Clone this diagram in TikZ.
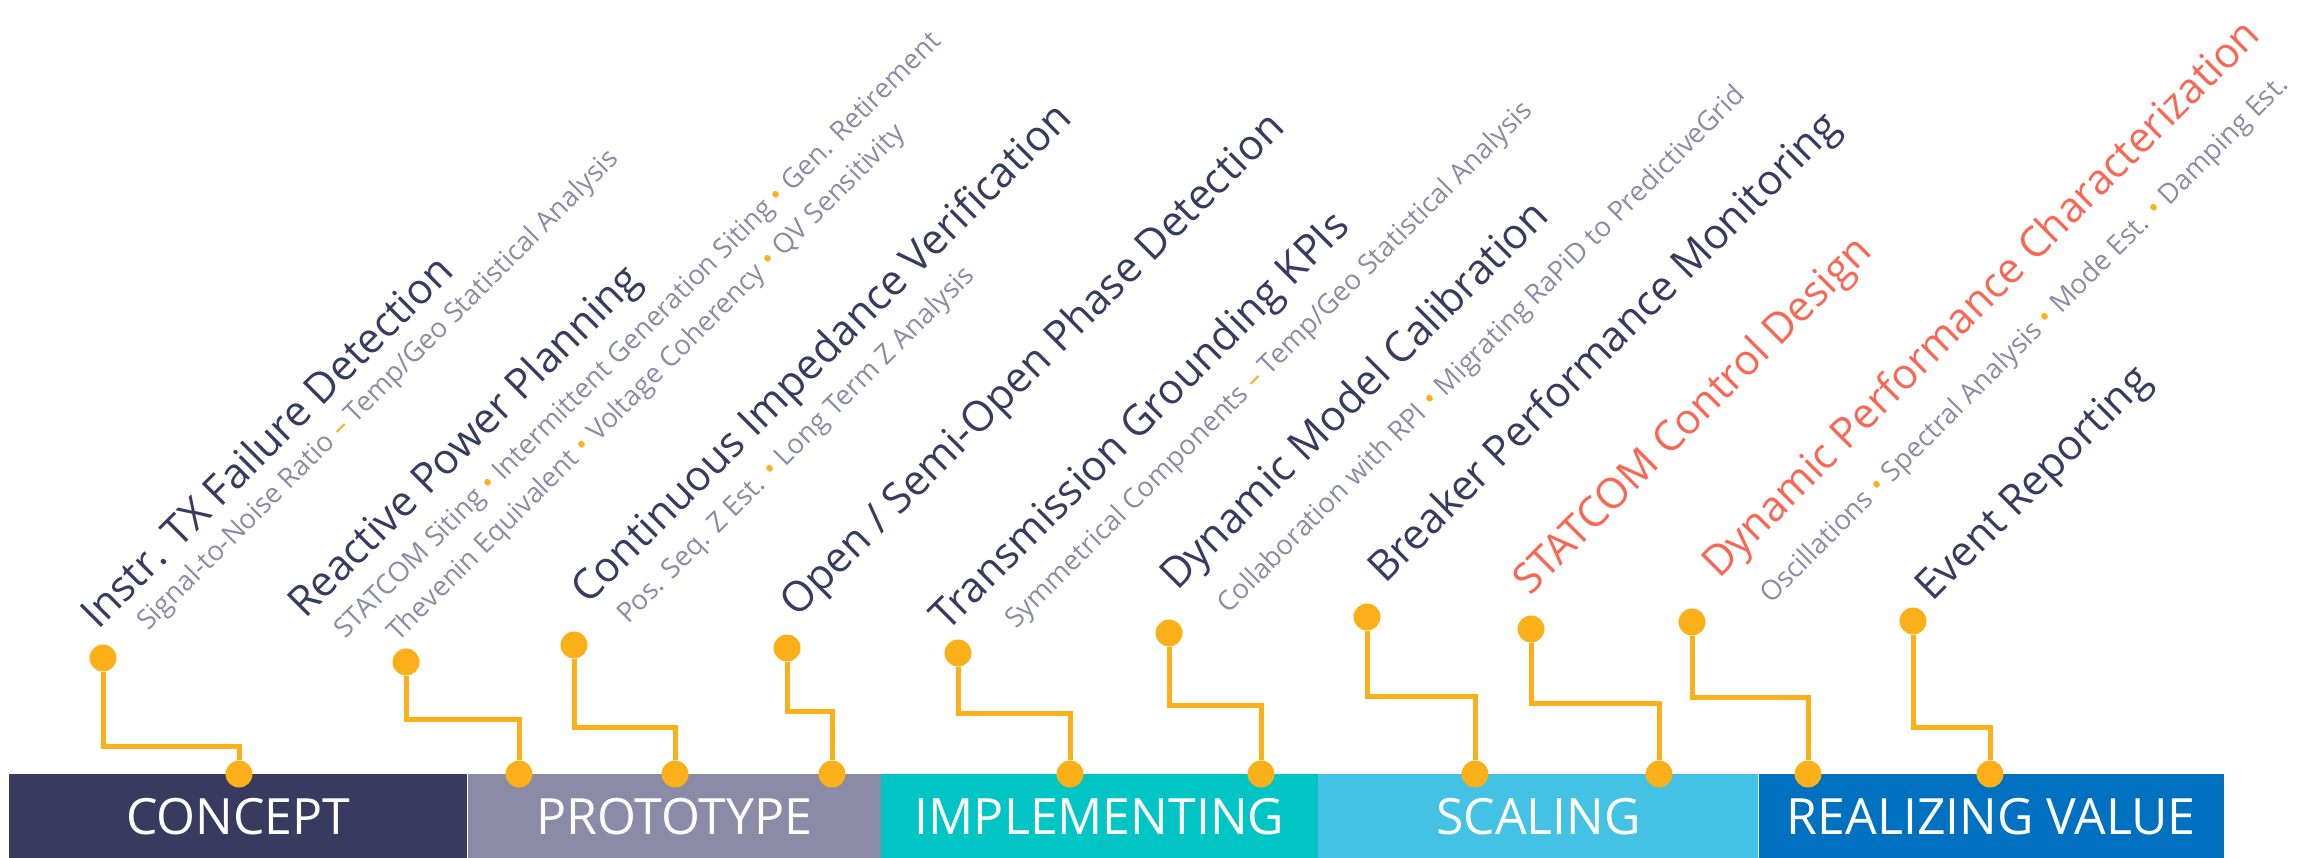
\documentclass[tikz,border=0pt]{standalone}
\usepackage{fontspec}
\setmainfont{Open Sans}
\usepackage{xcolor}
\usepackage{tikz}
\usetikzlibrary{positioning}

\definecolor{navy}{HTML}{383B5F}
\definecolor{lilac}{HTML}{8B8BA7}
\definecolor{coral}{HTML}{FA6654}
\definecolor{gold}{HTML}{FBB01A}
\definecolor{teal}{HTML}{00C5C4}
\definecolor{sky}{HTML}{43C2E3}
\definecolor{ocean}{HTML}{0071C1}

\newcommand{\titlefont}{\fontsize{42}{50}\selectfont}
\newcommand{\subfont}{\fontsize{27.5}{32}\selectfont}
\newcommand{\bandfont}{\fontsize{50}{58}\selectfont}
\newcommand{\bul}{ {\color{gold}\textbullet} }
\newcommand{\dsh}{ {\color{gold}--} }

\begin{document}
\begin{tikzpicture}[x=1pt,y=-1pt,
    band/.style={minimum height=84pt,inner sep=0pt,text=white,font=\bandfont},
    pin/.style={circle,fill=gold,inner sep=0pt,minimum size=27pt},
    wire/.style={draw=gold,line width=5pt},
    title/.style={rotate=45,anchor=base west,inner sep=0pt,text=navy,font=\titlefont},
    sub/.style={rotate=45,anchor=base west,inner sep=0pt,text=lilac,font=\subfont}]
  \useasboundingbox (0,0) rectangle (2308,858);

  % phases
  \node[band,fill=navy,minimum width=458pt,anchor=north west] (concept) at (9,774) {CONCEPT};
  \node[band,fill=lilac,minimum width=413pt,right=0pt of concept] (prototype) {PROTOTYPE};
  \node[band,fill=teal,minimum width=437pt,right=0pt of prototype] (implementing) {IMPLEMENTING};
  \node[band,fill=sky,minimum width=440pt,right=0pt of implementing] (scaling) {SCALING};
  \node[band,fill=ocean,minimum width=465pt,right=0pt of scaling] (realizing) {REALIZING VALUE};

  % pins on the phase bar
  \node[pin] (b1) at (239,774) {};
  \node[pin] (b2) at (519,774) {};
  \node[pin] (b3) at (675,774) {};
  \node[pin] (b4) at (832,774) {};
  \node[pin] (b5) at (1070,774) {};
  \node[pin] (b6) at (1261,774) {};
  \node[pin] (b7) at (1475,774) {};
  \node[pin] (b8) at (1659,774) {};
  \node[pin] (b9) at (1808,774) {};
  \node[pin] (b10) at (1990,774) {};

  % pins under the labels
  \node[pin] (t1) at (103,658) {};
  \node[pin] (t2) at (406,662) {};
  \node[pin] (t3) at (574,645) {};
  \node[pin] (t4) at (787,648) {};
  \node[pin] (t5) at (958,653) {};
  \node[pin] (t6) at (1169,633) {};
  \node[pin] (t7) at (1367,617) {};
  \node[pin] (t8) at (1531,629) {};
  \node[pin] (t9) at (1692,622) {};
  \node[pin] (t10) at (1913,621) {};

  \draw[wire] (t1) -- ++(0,88) -| (b1);
  \draw[wire] (t2) -- ++(0,57) -| (b2);
  \draw[wire] (t3) -- ++(0,82) -| (b3);
  \draw[wire] (t4) -- ++(0,63) -| (b4);
  \draw[wire] (t5) -- ++(0,60) -| (b5);
  \draw[wire] (t6) -- ++(0,72) -| (b6);
  \draw[wire] (t7) -- ++(0,79) -| (b7);
  \draw[wire] (t8) -- ++(0,74) -| (b8);
  \draw[wire] (t9) -- ++(0,75) -| (b9);
  \draw[wire] (t10) -- ++(0,106) -| (b10);

  % labels
  \node[title] (instr) at (98,631) {Instr. TX Failure Detection};
  \node[sub] (instrsub) at (148,632) {Signal-to-Noise Ratio\dsh Temp/Geo Statistical Analysis};
  \node[title] (reactive) at (305,620) {Reactive Power Planning};
  \node[sub] (reactivesuba) at (345,640) {STATCOM Siting\bul Intermittent Generation Siting\bul Gen. Retirement};
  \node[sub] (reactivesubb) at (398,643) {Thevenin Equivalent\bul Voltage Coherency\bul QV Sensitivity};
  \node[title] (impedance) at (588,606) {Continuous Impedance Verification};
  \node[sub] (impedancesub) at (628,625) {Pos. Seq. Z Est.\bul Long Term Z Analysis};
  \node[title] (openphase) at (797,619) {Open / Semi-Open Phase Detection};
  \node[title] (grounding) at (947,633) {Transmission Grounding KPIs};
  \node[sub] (groundingsub) at (1016,630) {Symmetrical Components\dsh Temp/Geo Statistical Analysis};
  \node[title] (calibration) at (1177,592) {Dynamic Model Calibration};
  \node[sub] (calibrationsub) at (1228,615) {Collaboration with RPI\bul Migrating RaPiD to PredictiveGrid};
  \node[title] (breaker) at (1385,585) {Breaker Performance Monitoring};
  \node[title,text=coral] (statcom) at (1530,597) {STATCOM Control Design};
  \node[title,text=coral] (dynperf) at (1719,580) {Dynamic Performance Characterization};
  \node[sub] (dynperfsub) at (1771,605) {Oscillations\bul Spectral Analysis\bul Mode Est.\bul Damping Est.};
  \node[title] (event) at (1932,603) {Event Reporting};
\end{tikzpicture}
\end{document}
